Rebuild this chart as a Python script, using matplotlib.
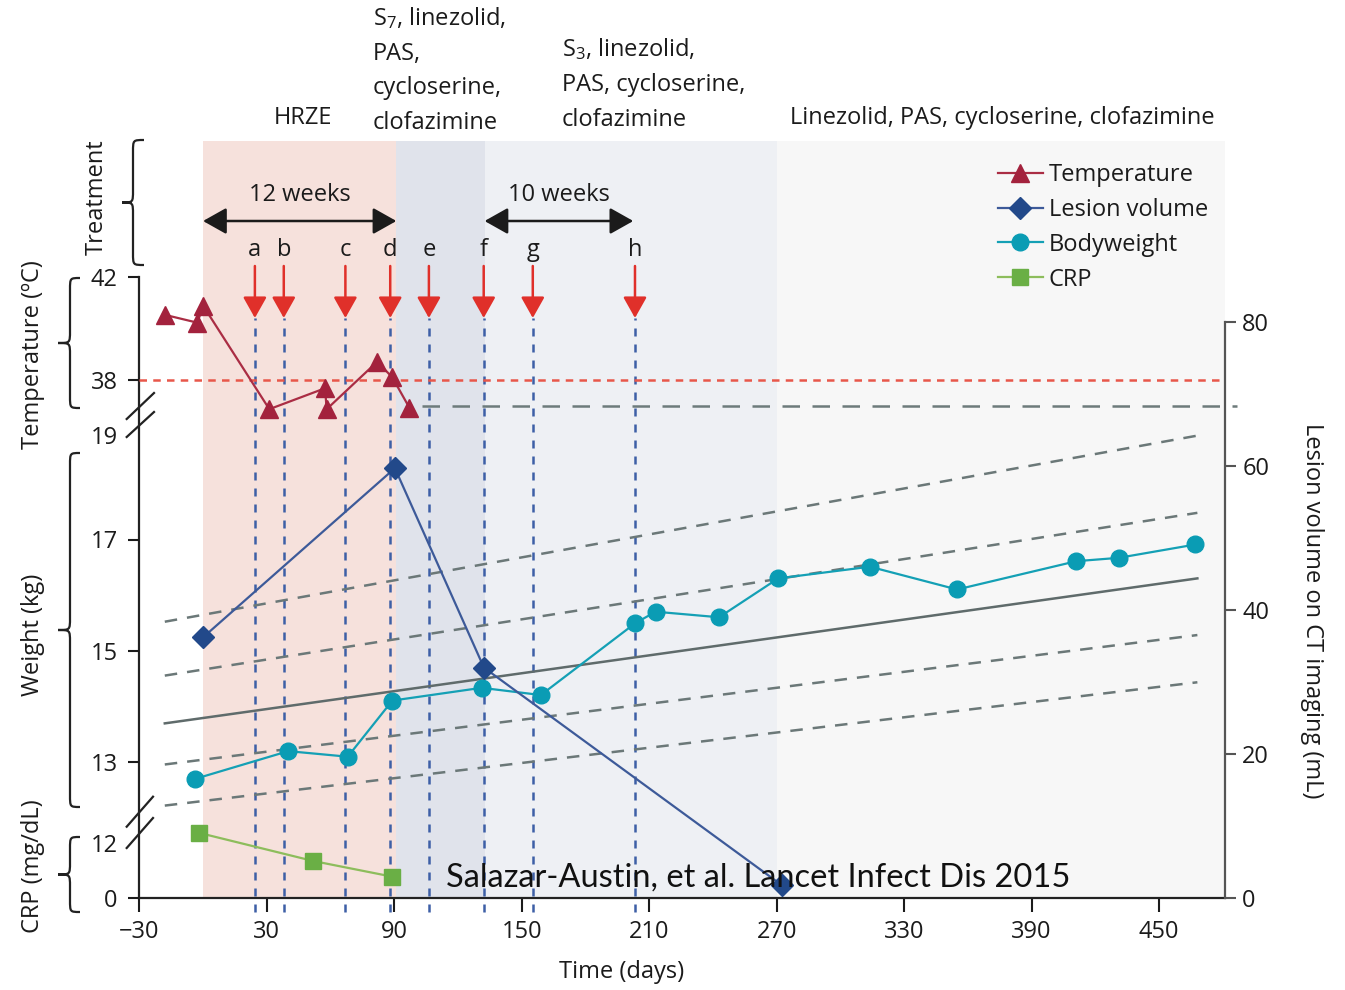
import matplotlib
matplotlib.use('Agg')
import matplotlib.pyplot as plt
from matplotlib.path import Path
from matplotlib.patches import PathPatch
from matplotlib.lines import Line2D

plt.rcParams['font.family'] = ['Open Sans', 'DejaVu Sans']
plt.rcParams['mathtext.fontset'] = 'custom'
plt.rcParams['mathtext.rm'] = 'Open Sans'
plt.rcParams['mathtext.it'] = 'Open Sans:italic'
plt.rcParams['text.color'] = '#1b1b1b'

# ---------------- data ----------------
temp_days = [-17.8, -2.7, 0.1, 31.2, 57.4, 58.2, 82.0, 89.1, 97.1]
temp_vals = [40.52, 40.22, 40.87, 36.87, 37.68, 36.87, 38.71, 38.10, 36.93]
fever_threshold = 38.0
temp_reference = 37.0
temp_reference_days = [102.9, 486.5]

lesion_days = [0.0, 90.3, 132.2, 272.3]
lesion_vals = [36.2, 59.7, 32.0, 1.8]

weight_days = [-3.8, 40.1, 68.1, 89.1, 131.1, 159.0, 203.3, 213.0, 242.9,
               270.7, 313.9, 354.9, 411.1, 431.0, 467.1]
weight_vals = [12.69, 13.19, 13.09, 14.10, 14.33, 14.20, 15.49, 15.70, 15.60,
               16.30, 16.51, 16.10, 16.61, 16.67, 16.91]

crp_days = [-1.8, 51.9, 89.1]
crp_vals = [14.2, 8.07, 4.65]

growth_days = [-18.0, 468.0]
growth_p97 = [15.52, 18.87]
growth_p85 = [14.55, 17.48]
growth_p50 = [13.69, 16.30]
growth_p15 = [12.95, 15.28]
growth_p3 = [12.21, 14.43]

event_labels = ['a', 'b', 'c', 'd', 'e', 'f', 'g', 'h']
event_days = [24.4, 38.0, 67.0, 88.1, 106.3, 132.1, 155.2, 203.3]

phase_bounds = [0, 91, 132.5, 270, 481]
phase_colors = ['#f6e1dc', '#e0e3eb', '#eef0f4', '#f7f7f7']

x_ticks = [-30, 30, 90, 150, 210, 270, 330, 390, 450]
temp_ticks = [38, 42]
weight_ticks = [13, 15, 17]
crp_ticks = [0, 12]
lesion_ticks = [0, 20, 40, 60, 80]

# ---------------- layout helpers ----------------
W, H = 1345, 990
AXL, AXR, AXT, AXB = 139.3, 1225.0, 141.0, 898.0
FS = 17


def fy(py):
    return (AXB - py) / (AXB - AXT)


def fxy(px, py):
    return (px / W, 1 - py / H)


def ylim_from(v1, p1, v2, p2):
    s = (v2 - v1) / (p2 - p1)
    return (v1 + (AXB - p1) * s, v1 + (AXT - p1) * s)


fig = plt.figure(figsize=(W / 100, H / 100), dpi=100)
rect = [AXL / W, 1 - AXB / H, (AXR - AXL) / W, (AXB - AXT) / H]

base = fig.add_axes(rect, label='base')
base.set_xlim(-30, 481)
base.set_ylim(0, 1)
for b0, b1, c in zip(phase_bounds[:-1], phase_bounds[1:], phase_colors):
    base.axvspan(b0, b1, color=c, lw=0, zorder=0)
base.patch.set_visible(False)
for s in ['top', 'right']:
    base.spines[s].set_visible(False)
base.spines['left'].set_bounds(0, fy(276.7))
base.spines['left'].set_linewidth(1.6)
base.spines['left'].set_color('#222222')
base.spines['bottom'].set_linewidth(1.6)
base.spines['bottom'].set_color('#222222')
base.set_xticks(x_ticks)
base.tick_params(axis='x', length=10, width=1.5, pad=6, labelsize=FS, colors='#1b1b1b')
base.tick_params(axis='y', left=False, labelleft=False)

# vertical event lines and red arrows
base.vlines(event_days, fy(912), fy(318), colors='#3d5fa6', lw=1.8,
            linestyles=(0, (3.2, 3.2)), clip_on=False, zorder=2)
for lab, d in zip(event_labels, event_days):
    base.annotate('', xy=(d, fy(318)), xytext=(d, fy(266)),
                  arrowprops=dict(arrowstyle='-|>,head_length=0.8,head_width=0.45',
                                  color='#e0302a', lw=1.8, mutation_scale=16,
                                  shrinkA=0, shrinkB=0), zorder=3)
    base.text(d, fy(250), lab, ha='center', va='center', fontsize=FS)

# treatment duration arrows
for d0, d1, txt in [(0, 91, '12 weeks'), (132.5, 202.5, '10 weeks')]:
    base.annotate('', xy=(d1, fy(221)), xytext=(d0, fy(221)),
                  arrowprops=dict(arrowstyle='<|-|>,head_length=0.8,head_width=0.45',
                                  color='#1b1b1b', lw=1.8, mutation_scale=18,
                                  shrinkA=0, shrinkB=0))
    base.text((d0 + d1) / 2, fy(195), txt, ha='center', va='center', fontsize=FS)

# treatment names
base.text(47, fy(118), 'HRZE', ha='center', va='center', fontsize=FS, clip_on=False)
base.text(80, fy(70), 'S$_\\mathregular{7}$, linezolid,\nPAS,\ncycloserine,\nclofazimine',
          ha='left', va='center', fontsize=FS, linespacing=1.6, clip_on=False)
base.text(168.8, fy(84), 'S$_\\mathregular{3}$, linezolid,\nPAS, cycloserine,\nclofazimine',
          ha='left', va='center', fontsize=FS, linespacing=1.6, clip_on=False)
base.text(276.2, fy(118), 'Linezolid, PAS, cycloserine, clofazimine',
          ha='left', va='center', fontsize=FS, clip_on=False)


def overlay(label):
    a = fig.add_axes(rect, sharex=base, label=label)
    a.patch.set_visible(False)
    for s in a.spines.values():
        s.set_visible(False)
    a.tick_params(axis='x', bottom=False, labelbottom=False)
    return a


# ---------------- weight ----------------
axW = overlay('weight')
axW.set_ylim(*ylim_from(17, 539.5, 13, 761.7))
gcol = '#6b7878'
for vals in [growth_p97, growth_p85, growth_p15, growth_p3]:
    axW.plot(growth_days, vals, color=gcol, lw=1.8, ls=(0, (5, 4)), zorder=2)
axW.plot(growth_days, growth_p50, color='#5f6b6b', lw=1.8, zorder=2)
lW, = axW.plot(weight_days, weight_vals, color='#14a0b5', lw=1.6, marker='o', ms=12,
               mfc='#0a9cb4', mec='#0a9cb4', zorder=4)
axW.set_yticks(weight_ticks)
axW.tick_params(axis='y', length=8, width=1.5, pad=7.5, labelsize=FS, colors='#1b1b1b')
axW.annotate('19', xy=(0, 19), xycoords=('axes fraction', 'data'), xytext=(-21.7, -10),
             textcoords='offset pixels', ha='right', va='center', fontsize=FS)

# ---------------- temperature ----------------
axT = overlay('temp')
axT.set_ylim(*ylim_from(42, 276.7, 38, 380))
axT.axhline(fever_threshold, color='#e8574a', lw=1.8, ls=(0, (3, 2.5)), zorder=2)
axT.plot(temp_reference_days, [temp_reference] * 2, color='#6d7b7b', lw=1.8,
         ls=(0, (7, 5)), clip_on=False, zorder=2)
lT, = axT.plot(temp_days, temp_vals, color='#aa2d44', lw=1.6, marker='^', ms=13,
               mfc='#a3223d', mec='#a3223d', zorder=4)
axT.set_yticks(temp_ticks)
axT.tick_params(axis='y', length=8, width=1.5, pad=7.5, labelsize=FS, colors='#1b1b1b')

# ---------------- CRP ----------------
axC = overlay('crp')
axC.set_ylim(*ylim_from(12, 843, 0, 898))
lC, = axC.plot(crp_days, crp_vals, color='#8dbd5c', lw=1.6, marker='s', ms=11,
               mfc='#6aaf45', mec='#6aaf45', zorder=4)
axC.set_yticks(crp_ticks)
axC.tick_params(axis='y', length=8, width=1.5, pad=7.5, labelsize=FS, colors='#1b1b1b')
axC.yaxis.get_major_ticks()[1].tick1line.set_visible(False)

# ---------------- lesion volume ----------------
axL = overlay('lesion')
axL.set_ylim(*ylim_from(80, 322, 0, 898))
axL.spines['right'].set_visible(True)
axL.spines['right'].set_bounds(0, 80)
axL.spines['right'].set_color('#555555')
axL.spines['right'].set_linewidth(1.6)
lL, = axL.plot(lesion_days, lesion_vals, color='#3d5a99', lw=1.6, marker='D', ms=11,
               mfc='#22498a', mec='#22498a', zorder=5, clip_on=False)
axL.set_yticks(lesion_ticks)
axL.tick_params(axis='y', left=False, labelleft=False, right=True, labelright=True,
                length=8, width=1.5, pad=4.5, labelsize=FS, colors='#555555',
                labelcolor='#1b1b1b')

# ---------------- legend ----------------
fig.legend([lT, lL, lW, lC], ['Temperature', 'Lesion volume', 'Bodyweight', 'CRP'],
           loc='upper left', bbox_to_anchor=fxy(998, 163), frameon=False,
           fontsize=FS, handlelength=1.9, handletextpad=0.25, labelspacing=0.46,
           borderpad=0, borderaxespad=0)

# ---------------- axis labels ----------------
fig.text(*fxy(622, 972), 'Time (days)', ha='center', va='center', fontsize=FS)
fig.text(*fxy(1312, 611), 'Lesion volume on CT imaging (mL)', ha='center', va='center',
         rotation=270, fontsize=FS)
fig.text(*fxy(97, 197), 'Treatment', ha='center', va='center', rotation=90, fontsize=FS)
fig.text(*fxy(33, 355), 'Temperature (ºC)', ha='center', va='center', rotation=90, fontsize=FS)
fig.text(*fxy(33, 635), 'Weight (kg)', ha='center', va='center', rotation=90, fontsize=FS)
fig.text(*fxy(33, 866), 'CRP (mg/dL)', ha='center', va='center', rotation=90, fontsize=FS)

fig.text(*fxy(758, 887), 'Salazar-Austin, et al. Lancet Infect Dis 2015', ha='center',
         va='baseline', fontsize=23.5, family=['Lato', 'DejaVu Sans'], color='#111111')


# ---------------- braces and axis breaks ----------------
def brace(xr, xv, xt, yt, yb, r=12):
    ym = (yt + yb) / 2
    pts = [(xr, yt), (xv, yt), (xv, yt), (xv, yt + r),
           (xv, ym - r),
           (xv, ym), (xv, ym), (xt, ym),
           (xv, ym), (xv, ym), (xv, ym + r),
           (xv, yb - r),
           (xv, yb), (xv, yb), (xr, yb)]
    codes = [Path.MOVETO, Path.CURVE4, Path.CURVE4, Path.CURVE4, Path.LINETO,
             Path.CURVE4, Path.CURVE4, Path.CURVE4, Path.CURVE4, Path.CURVE4, Path.CURVE4,
             Path.LINETO, Path.CURVE4, Path.CURVE4, Path.CURVE4]
    p = Path([fxy(x, y) for x, y in pts], codes)
    fig.add_artist(PathPatch(p, transform=fig.transFigure, fill=False,
                             lw=1.6, edgecolor='#222222'))


brace(144, 133, 122, 140, 265)
brace(80, 70, 58, 278, 408)
brace(80, 70, 58, 453, 807)
brace(80, 70, 58, 837, 912)

for (x0, y0, x1, y1) in [(126.7, 419, 154, 393), (126.7, 437, 154, 412),
                         (126.7, 826.7, 153, 796.7), (126.7, 848, 153, 818)]:
    a, b = fxy(x0, y0), fxy(x1, y1)
    fig.add_artist(Line2D([a[0], b[0]], [a[1], b[1]], transform=fig.transFigure,
                          color='#222222', lw=1.6))

fig.savefig('out.png', dpi=100)
